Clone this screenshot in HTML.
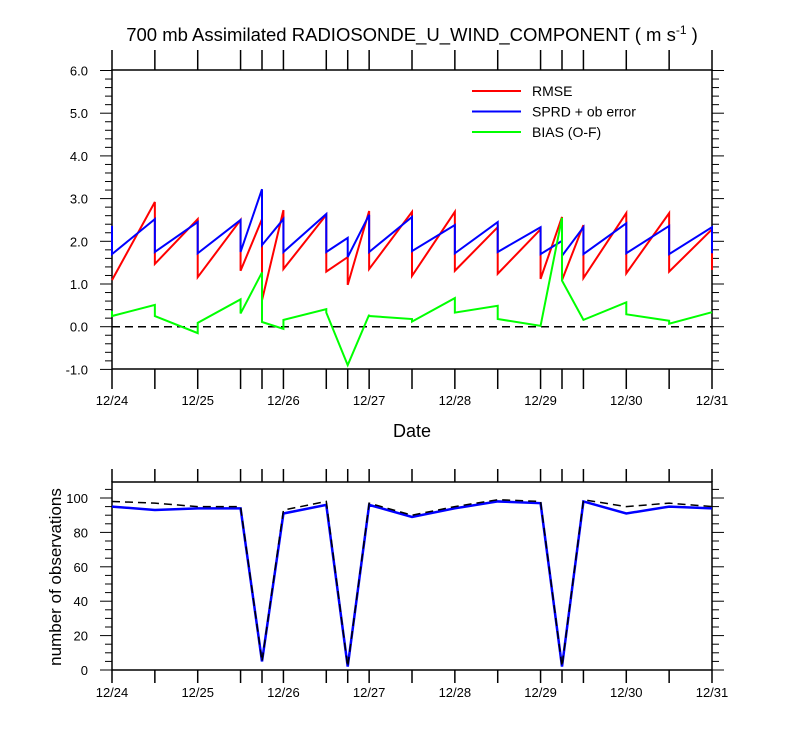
<!DOCTYPE html>
<html><head><meta charset="utf-8"><style>
body{margin:0;background:#fff}
svg{display:block;font-family:"Liberation Sans",sans-serif}
</style></head><body>
<svg id="c" width="800" height="750"></svg>
<script>
const times=[0,0.5,1,1.5,1.75,2,2.5,2.75,3,3.5,4,4.5,5,5.25,5.5,6,6.5,7];
const dateLabels=["12/24","12/25","12/26","12/27","12/28","12/29","12/30","12/31"];
const rmsePrior=[1.09,2.92,2.52,2.50,2.52,2.73,2.62,1.63,2.71,2.69,2.69,2.33,2.28,2.57,2.38,2.66,2.66,2.28];
const rmsePost=[1.09,1.47,1.16,1.31,0.62,1.35,1.29,0.98,1.35,1.19,1.31,1.24,1.12,1.09,1.14,1.25,1.29,1.33];
const sprdPrior=[2.36,2.52,2.45,2.50,3.22,2.52,2.64,2.08,2.62,2.57,2.38,2.45,2.33,2.01,2.33,2.42,2.36,2.33];
const sprdPost=[1.70,1.75,1.72,1.75,1.91,1.75,1.75,1.63,1.75,1.77,1.72,1.75,1.70,1.66,1.70,1.72,1.70,1.72];
const biasPrior=[0.37,0.51,-0.15,0.64,1.27,-0.05,0.41,-0.90,0.28,0.18,0.67,0.49,0.02,2.55,0.16,0.57,0.14,0.34];
const biasPost=[0.25,0.25,0.09,0.31,0.11,0.16,0.33,-0.90,0.25,0.12,0.33,0.18,0.02,1.08,0.16,0.29,0.07,0.34];
const obsUsed=[95,93,94,94,5,91,96,2,96,89,94,98,97,2,98,91,95,94];
const obsTotal=[98,97,95,95,5,93,98,2,97,90,95,99,98,2,99,95,97,95];
const topTicks=[-1,0,1,2,3,4,5,6];
const botTicks=[0,20,40,60,80,100];

const NS="http://www.w3.org/2000/svg";
const svg=document.getElementById('c');
function el(tag,attrs,parent){const e=document.createElementNS(NS,tag);for(const k in attrs)e.setAttribute(k,attrs[k]);(parent||svg).appendChild(e);return e;}
const X0=112,X1=712;
const x=t=>X0+t*(X1-X0)/7;
const yT=v=>326.7-v*42.7;
const yB=v=>670-v*1.72;

let t=el('text',{x:412,y:41,'text-anchor':'middle','font-size':18.5});


t.innerHTML='700 mb Assimilated RADIOSONDE_U_WIND_COMPONENT ( m s<tspan font-size="12" dy="-7">-1</tspan><tspan dy="7"> )</tspan>';

function frame(top,bot,name,tickLen,labOff){
  const r=el('rect',{x:X0,y:top,width:X1-X0,height:bot-top,fill:'none',stroke:'#000','stroke-width':1.5});
  
  
  times.forEach(tt=>{
    el('line',{x1:x(tt),x2:x(tt),y1:top,y2:top-tickLen,stroke:'#000','stroke-width':1.5});
    el('line',{x1:x(tt),x2:x(tt),y1:bot,y2:bot+tickLen,stroke:'#000','stroke-width':1.5});
  });
  dateLabels.forEach((d,i)=>{
    const e=el('text',{x:x(i),y:bot+labOff,'text-anchor':'middle','font-size':13});
    
    
    e.textContent=d;
  });
}
function yaxis(ticks,ys,minorStep,fmt){
  const lo=ticks[0],hi=ticks[ticks.length-1];
  for(let v=lo;v<=hi+1e-9;v+=minorStep){
    const yy=ys(v);const major=ticks.some(k=>Math.abs(k-v)<1e-6);
    const L=major?12:7;
    el('line',{x1:X0-L,x2:X0,y1:yy,y2:yy,stroke:'#000','stroke-width':1});
    el('line',{x1:X1,x2:X1+L,y1:yy,y2:yy,stroke:'#000','stroke-width':1});
  }
  ticks.forEach(v=>{
    const e=el('text',{x:88,y:ys(v)+5,'text-anchor':'end','font-size':13});
    
    
    e.textContent=fmt(v);
  });
}
frame(70,369,'top-plot-frame',20,36);
yaxis(topTicks,yT,0.2,v=>v.toFixed(1));
frame(482,670,'bottom-plot-frame',13,27);
yaxis(botTicks,yB,5,v=>String(v));
[105].forEach(v=>{el('line',{x1:X0-7,x2:X0,y1:yB(v),y2:yB(v),stroke:'#000'});el('line',{x1:X1,x2:X1+7,y1:yB(v),y2:yB(v),stroke:'#000'});});

let d=el('text',{x:412,y:437,'text-anchor':'middle','font-size':18});


d.textContent='Date';
let yl=el('text',{x:0,y:0,'text-anchor':'middle','font-size':17,transform:'translate(61,577) rotate(-90)'});


yl.textContent='number of observations';

let z=el('line',{x1:X0,x2:X1,y1:yT(0),y2:yT(0),stroke:'#000','stroke-width':1.5,'stroke-dasharray':'8,5'});



function saw(prior,post,color,name){
  let p='';
  times.forEach((tt,i)=>{p+=(i?'L':'M')+x(tt)+','+yT(prior[i])+'L'+x(tt)+','+yT(post[i]);});
  const e=el('path',{d:p,fill:'none',stroke:color,'stroke-width':2});
  
  
}
saw(rmsePrior,rmsePost,'#ff0000','rmse-line');
saw(sprdPrior,sprdPost,'#0000ff','sprd-line');
saw(biasPrior,biasPost,'#00ff00','bias-line');

function line(vals,attrs,name){
  const p=times.map((tt,i)=>(i?'L':'M')+x(tt)+','+yB(vals[i])).join('');
  const e=el('path',Object.assign({d:p,fill:'none'},attrs));
  
  
}
line(obsUsed,{stroke:'#0000ff','stroke-width':2.5},'obs-used-line');
line(obsTotal,{stroke:'#000','stroke-width':1.5,'stroke-dasharray':'8,5'},'obs-total-line');

const legNames=['RMSE','SPRD + ob error','BIAS (O-F)'];
const legCols=['#ff0000','#0000ff','#00ff00'];
legNames.forEach((n,i)=>{
  const yy=91+i*20.5;
  const g=el('g',{});
  
  
  el('line',{x1:472,x2:521,y1:yy,y2:yy,stroke:legCols[i],'stroke-width':2},g);
  const e=el('text',{x:532,y:yy+5,'font-size':14},g);
  e.textContent=n;
});
</script>
</body></html>
